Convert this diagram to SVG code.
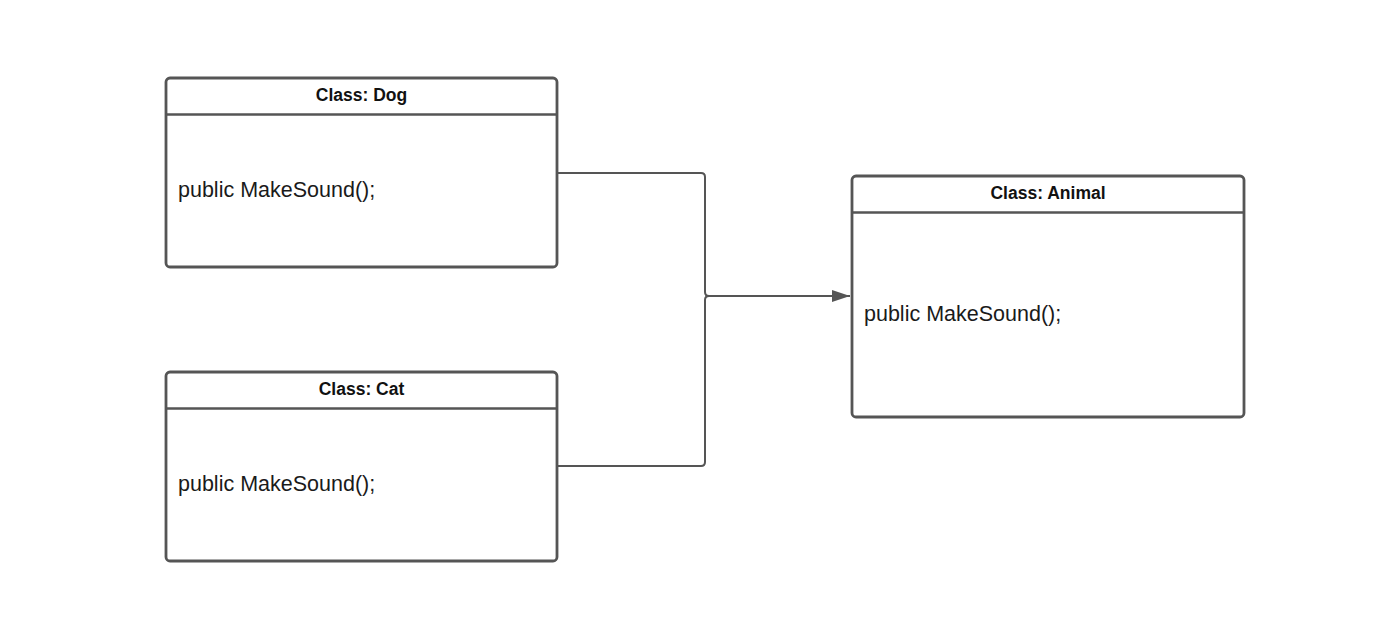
<svg xmlns="http://www.w3.org/2000/svg" width="1400" height="630" viewBox="0 0 1400 630">
<style>
.box{fill:#fff;stroke:#555;stroke-width:2.8}
.div{stroke:#555;stroke-width:2.5}
.hdr{font-family:"Liberation Sans",Arial,sans-serif;font-weight:bold;font-size:17.5px;fill:#111;text-anchor:middle}
.body{font-family:"Liberation Sans",Arial,sans-serif;font-size:21.5px;fill:#1a1a1a}
.conn{fill:none;stroke:#555;stroke-width:2}
</style>
<defs>
<marker id="arr" markerWidth="18" markerHeight="12" refX="18" refY="6" orient="auto" markerUnits="userSpaceOnUse">
<path d="M0,0 L18,6 L0,12 Z" fill="#555"/>
</marker>
</defs>
<rect width="1400" height="630" fill="#fff"/>
<g id="connectors">
<path class="conn" d="M557,173 H701 Q705,173 705,177 V292 Q705,296 709,296 H850" marker-end="url(#arr)"/>
<path class="conn" d="M557,466 H701 Q705,466 705,462 V300 Q705,296 709,296"/>
</g>
<g id="dog">
<rect class="box" x="166" y="78" width="391" height="189" rx="4"/>
<line class="div" x1="166" y1="114.5" x2="557" y2="114.5"/>
<text class="hdr" x="361.5" y="100.5">Class: Dog</text>
<text class="body" x="178" y="197">public MakeSound();</text>
</g>
<g id="cat">
<rect class="box" x="166" y="372" width="391" height="189" rx="4"/>
<line class="div" x1="166" y1="408.5" x2="557" y2="408.5"/>
<text class="hdr" x="361.5" y="394.5">Class: Cat</text>
<text class="body" x="178" y="491">public MakeSound();</text>
</g>
<g id="animal">
<rect class="box" x="852" y="176" width="392" height="241" rx="4"/>
<line class="div" x1="852" y1="212.5" x2="1244" y2="212.5"/>
<text class="hdr" x="1048" y="198.5">Class: Animal</text>
<text class="body" x="864" y="321">public MakeSound();</text>
</g>
</svg>
